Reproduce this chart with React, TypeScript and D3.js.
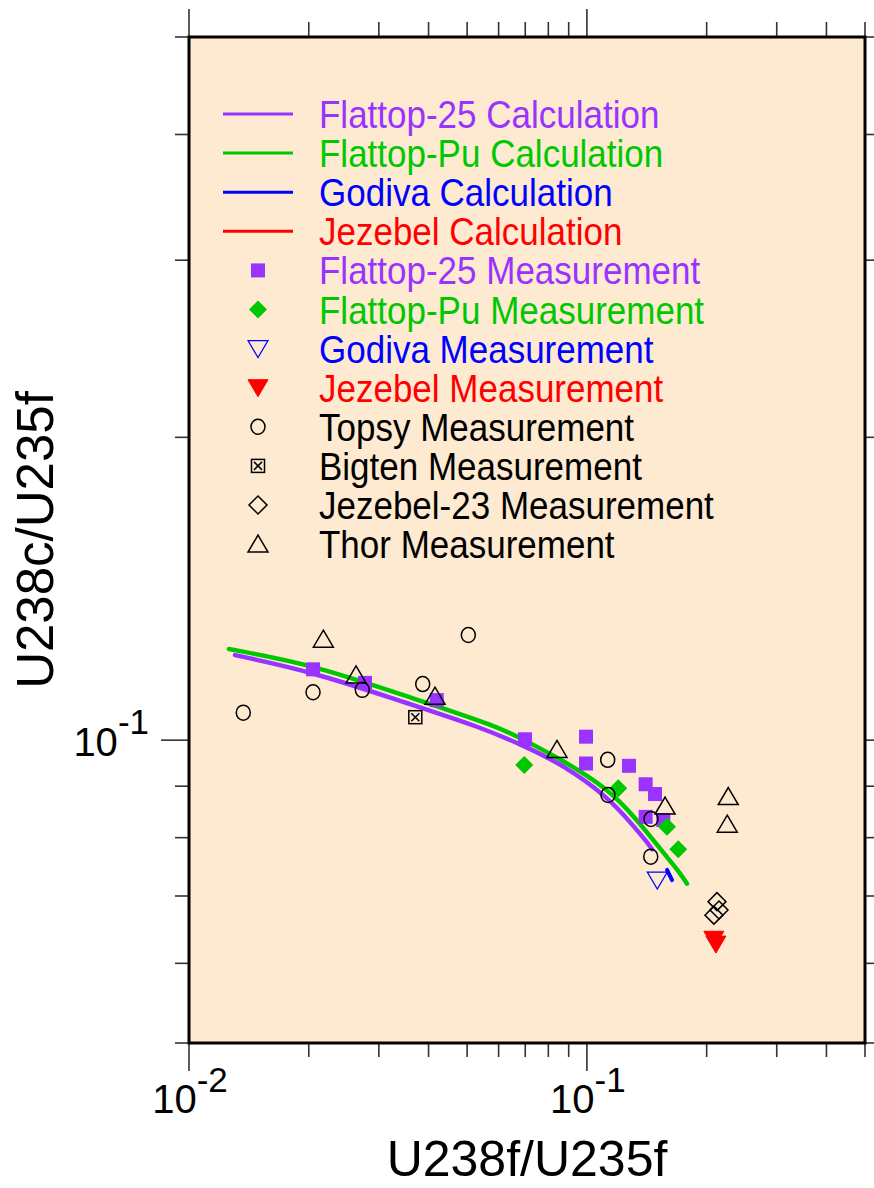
import React from "react";
import * as d3 from "d3";

// calculation curves [U238f/U235f, U238c/U235f]
const flattop25Calc: [number, number][] = [
  [0.01305, 0.1215], [0.02049, 0.1169], [0.03391, 0.1094], [0.05386, 0.1031],
  [0.06991, 0.0986], [0.0871, 0.0945], [0.113, 0.0878], [0.1305, 0.0823],
  [0.1416, 0.0792], [0.1458, 0.0779],
];
const flattopPuCalc: [number, number][] = [
  [0.0126, 0.1232], [0.02049, 0.1188], [0.03391, 0.1111], [0.06047, 0.1031],
  [0.0719, 0.0993], [0.0841, 0.0962], [0.113, 0.0896], [0.1336, 0.0833],
  [0.1466, 0.0796], [0.159, 0.0765], [0.1714, 0.0738], [0.1785, 0.072],
];
const godivaCalc: [number, number][] = [[0.159, 0.0743], [0.1637, 0.0726]];
const jezebelCalc: [number, number][] = [[0.2085, 0.0636], [0.2115, 0.0629]];

// measurements
const flattop25Meas: [number, number][] = [
  [0.0205, 0.1176], [0.02769, 0.114], [0.04194, 0.1096], [0.0699, 0.1002],
  [0.0995, 0.1008], [0.0995, 0.0948], [0.1276, 0.0943], [0.1405, 0.0904],
  [0.1483, 0.0884], [0.1405, 0.0839], [0.1556, 0.0833],
];
const flattopPuMeas: [number, number][] = [
  [0.0696, 0.0945], [0.1199, 0.0896], [0.159, 0.082], [0.1697, 0.0779],
];
const godivaMeas: [number, number][] = [[0.1503, 0.0726]];
const jezebelMeas: [number, number][] = [[0.2085, 0.0634], [0.211, 0.0627]];
const topsyMeas: [number, number][] = [
  [0.01369, 0.1065], [0.0205, 0.1116], [0.02726, 0.1122], [0.03867, 0.1137],
  [0.05035, 0.1272], [0.1128, 0.0956], [0.113, 0.0882], [0.1449, 0.0835],
  [0.1447, 0.0766],
];
const bigtenMeas: [number, number][] = [[0.03705, 0.1054]];
const jezebel23Meas: [number, number][] = [[0.2123, 0.0691], [0.2148, 0.0678], [0.2086, 0.067]];
const thorMeas: [number, number][] = [
  [0.02176, 0.126], [0.02629, 0.1161], [0.04152, 0.1106], [0.0841, 0.0979],
  [0.1572, 0.086], [0.2266, 0.0879], [0.2253, 0.0825],
];

const xMajorTicks = [0.01, 0.1];
const xMinorTicks = [0.02, 0.03, 0.04, 0.05, 0.06, 0.07, 0.08, 0.09, 0.2, 0.3, 0.4, 0.5];
const yMajorTicks = [0.1];
const yMinorTicks = [0.05, 0.06, 0.07, 0.08, 0.09, 0.2, 0.3, 0.4, 0.5];
const xTickLabels = [{ v: 0.01, base: "10", exp: "-2" }, { v: 0.1, base: "10", exp: "-1" }];
const yTickLabels = [{ v: 0.1, base: "10", exp: "-1" }];

const PURPLE = "#9933FF";
const GREEN = "#00C800";
const BLUE = "#0000FF";
const RED = "#FF0000";
const BLACK = "#000000";

type Shape = "square" | "diamond" | "triDown" | "triUp" | "circle" | "boxX";

const lineSeries = [
  { name: "Flattop-25 Calculation", color: PURPLE, data: flattop25Calc },
  { name: "Flattop-Pu Calculation", color: GREEN, data: flattopPuCalc },
  { name: "Godiva Calculation", color: BLUE, data: godivaCalc },
  { name: "Jezebel Calculation", color: RED, data: jezebelCalc },
];

const markerSeries: { name: string; color: string; shape: Shape; filled: boolean; data: [number, number][] }[] = [
  { name: "Flattop-25 Measurement", color: PURPLE, shape: "square", filled: true, data: flattop25Meas },
  { name: "Flattop-Pu Measurement", color: GREEN, shape: "diamond", filled: true, data: flattopPuMeas },
  { name: "Godiva Measurement", color: BLUE, shape: "triDown", filled: false, data: godivaMeas },
  { name: "Jezebel Measurement", color: RED, shape: "triDown", filled: true, data: jezebelMeas },
  { name: "Topsy Measurement", color: BLACK, shape: "circle", filled: false, data: topsyMeas },
  { name: "Bigten Measurement", color: BLACK, shape: "boxX", filled: false, data: bigtenMeas },
  { name: "Jezebel-23 Measurement", color: BLACK, shape: "diamond", filled: false, data: jezebel23Meas },
  { name: "Thor Measurement", color: BLACK, shape: "triUp", filled: false, data: thorMeas },
];

function Marker({ shape, x, y, color, filled }: { shape: Shape; x: number; y: number; color: string; filled: boolean }) {
  const fill = filled ? color : "none";
  const sw = 1.5;
  if (shape === "square") return <rect x={x - 7} y={y - 7} width={14} height={14} fill={fill} />;
  if (shape === "diamond") {
    const r = 9;
    return <path d={`M${x},${y - r}L${x + r},${y}L${x},${y + r}L${x - r},${y}Z`} fill={fill} stroke={filled ? "none" : color} strokeWidth={sw} />;
  }
  if (shape === "triDown") {
    return <path d={`M${x - 10},${y - 8}L${x + 10},${y - 8}L${x},${y + 9}Z`} fill={fill} stroke={color} strokeWidth={filled ? 1 : 1.2} />;
  }
  if (shape === "triUp") {
    return <path d={`M${x},${y - 9}L${x + 10},${y + 8}L${x - 10},${y + 8}Z`} fill={fill} stroke={color} strokeWidth={sw} />;
  }
  if (shape === "circle") return <ellipse cx={x} cy={y} rx={7} ry={7.5} fill="none" stroke={color} strokeWidth={sw} />;
  // boxX
  return (
    <g stroke={color} strokeWidth={1.5} fill="none">
      <rect x={x - 6.5} y={y - 6.5} width={13} height={13} />
      <path d={`M${x - 4},${y - 4}L${x + 4},${y + 4}M${x + 4},${y - 4}L${x - 4},${y + 4}`} />
    </g>
  );
}

export default function App() {
  const W = 874, H = 1188;
  const left = 189, right = 865, top = 37, bottom = 1043;
  const x = d3.scaleLog().domain([0.01, 0.5]).range([left, right]);
  const y = d3.scaleLog().domain([0.05, 0.5]).range([bottom, top]);
  const line = d3.line<[number, number]>().x((d) => x(d[0])).y((d) => y(d[1])).curve(d3.curveBasis);

  const font = "'Liberation Sans', Arial, Helvetica, sans-serif";
  const tickColor = "#333";
  const legendX0 = 223, legendX1 = 293, legendMarkX = 258, legendTextX = 319;
  const legendY0 = 114, legendStep = 39.1;

  return (
    <svg width={W} height={H} style={{ position: "absolute", left: 0, top: 0, background: "#fff" }} fontFamily={font}>
      <rect x={left} y={top} width={right - left} height={bottom - top} fill="#FDEAD0" />

      {/* ticks */}
      <g stroke={tickColor} strokeWidth={1.6}>
        {xMajorTicks.map((t) => (
          <g key={"xM" + t}>
            <line x1={x(t)} x2={x(t)} y1={bottom} y2={bottom + 28} />
            <line x1={x(t)} x2={x(t)} y1={top} y2={top - 28} />
          </g>
        ))}
        {xMinorTicks.map((t) => (
          <g key={"xm" + t}>
            <line x1={x(t)} x2={x(t)} y1={bottom} y2={bottom + 14} />
            <line x1={x(t)} x2={x(t)} y1={top} y2={top - 15} />
          </g>
        ))}
        {yMajorTicks.map((t) => (
          <g key={"yM" + t}>
            <line x1={left} x2={left - 28} y1={y(t)} y2={y(t)} />
            <line x1={right} x2={right + 28} y1={y(t)} y2={y(t)} />
          </g>
        ))}
        {yMinorTicks.map((t) => (
          <g key={"ym" + t}>
            <line x1={left} x2={left - 14} y1={y(t)} y2={y(t)} />
            <line x1={right} x2={right + 14} y1={y(t)} y2={y(t)} />
          </g>
        ))}
      </g>

      {/* tick labels */}
      {xTickLabels.map((t) => (
        <text key={"xl" + t.v} x={x(t.v) + 1} y={bottom + 70} textAnchor="middle" fontSize={40} fill="#000">
          {t.base}
          <tspan fontSize={35} dy={-21}>{t.exp}</tspan>
        </text>
      ))}
      {yTickLabels.map((t) => (
        <text key={"yl" + t.v} x={left - 40} y={y(t.v) + 16} textAnchor="end" fontSize={40} fill="#000">
          {t.base}
          <tspan fontSize={35} dy={-22}>{t.exp}</tspan>
        </text>
      ))}

      {/* axis titles */}
      <text x={(left + right) / 2} y={1176} textAnchor="middle" fontSize={50} fill="#000">U238f/U235f</text>
      <text transform={`translate(53,${(top + bottom) / 2}) rotate(-90)`} textAnchor="middle" fontSize={51} fill="#000">U238c/U235f</text>

      {/* legend */}
      {lineSeries.map((s, i) => {
        const cy = legendY0 + i * legendStep;
        return (
          <g key={"ll" + s.name}>
            <line x1={legendX0} x2={legendX1} y1={cy} y2={cy} stroke={s.color} strokeWidth={3} />
            <text transform={`translate(${legendTextX},${cy + 14}) scale(1,1.1)`} fontSize={35} fill={s.color}>{s.name}</text>
          </g>
        );
      })}
      {markerSeries.map((s, j) => {
        const cy = legendY0 + (j + 4) * legendStep;
        return (
          <g key={"lm" + s.name}>
            <Marker shape={s.shape} x={legendMarkX} y={cy} color={s.color} filled={s.filled} />
            <text transform={`translate(${legendTextX},${cy + 14}) scale(1,1.1)`} fontSize={35} fill={s.color}>{s.name}</text>
          </g>
        );
      })}

      {/* calculation curves */}
      {lineSeries.map((s) => (
        <path key={"c" + s.name} d={line(s.data) || ""} fill="none" stroke={s.color} strokeWidth={s.data.length > 2 ? 4.5 : 4} strokeLinecap="round" />
      ))}

      {/* measurements */}
      {markerSeries.map((s) => (
        <g key={"m" + s.name}>
          {s.data.map((d, k) => (
            <Marker key={k} shape={s.shape} x={x(d[0])} y={y(d[1])} color={s.color} filled={s.filled} />
          ))}
        </g>
      ))}

      {/* frame */}
      <rect x={left} y={top} width={right - left} height={bottom - top} fill="none" stroke="#000" strokeWidth={3} />
    </svg>
  );
}
